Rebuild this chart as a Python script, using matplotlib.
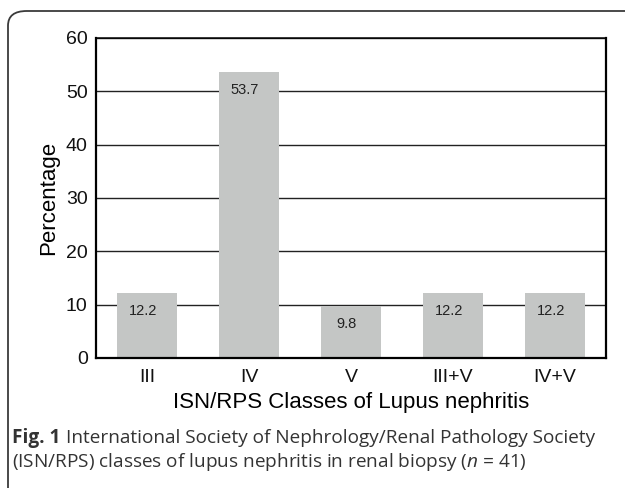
import matplotlib
matplotlib.use("Agg")
import matplotlib.pyplot as plt
from matplotlib.patches import FancyBboxPatch

# data
classes = ["III", "IV", "V", "III+V", "IV+V"]
percent = [12.2, 53.7, 9.8, 12.2, 12.2]
yticks = [0, 10, 20, 30, 40, 50, 60]

plt.rcParams['font.family'] = ['Liberation Sans', 'DejaVu Sans']
plt.rcParams['mathtext.fontset'] = 'custom'
plt.rcParams['mathtext.it'] = 'Open Sans:italic'
plt.rcParams['mathtext.rm'] = 'Open Sans'

W, H = 625, 488
fig = plt.figure(figsize=(W / 100, H / 100), dpi=100)

# outer rounded frame (runs off the right and bottom edges)
frame = FancyBboxPatch((8 / W, -0.2), 1.2, (H - 11) / H + 0.2,
                       boxstyle="round,pad=0,rounding_size=0.03",
                       transform=fig.transFigure, fill=False,
                       edgecolor="#3a3a3a", linewidth=1.3, clip_on=False)
fig.patches.append(frame)

ax = fig.add_axes([96 / W, (H - 358) / H, 510 / W, 320 / H])
x = range(len(classes))
bars = ax.bar(x, percent, width=0.58, color="#c4c6c5", zorder=2)
for xi, v in zip(x, percent):
    ax.annotate(f"{v}", (xi, v), xytext=(-3, -13), textcoords="offset points",
                ha="center", va="center", fontsize=10.5, color="#222222", zorder=3)

ax.set_xlim(-0.5, len(classes) - 0.5)
ax.set_ylim(0, 60)
ax.set_yticks(yticks)
ax.set_xticks(list(x))
ax.set_xticklabels(classes)
ax.yaxis.grid(True, color="#222222", linewidth=1.0, zorder=1)
ax.set_axisbelow(True)
ax.tick_params(length=0, labelsize=14, colors="#111111")
ax.tick_params(axis="y", pad=6)
ax.tick_params(axis="x", pad=8)
for s in ["left", "bottom", "right"]:
    ax.spines[s].set_linewidth(1.6)
ax.spines["top"].set_linewidth(1.1)
ax.set_ylabel("Percentage", fontsize=16, labelpad=5)
ax.set_xlabel("ISN/RPS Classes of Lupus nephritis", fontsize=16, labelpad=4)

# caption
cap_color = "#333333"
fig.text(12 / W, 1 - 438 / H, "Fig. 1", fontsize=13.7, fontweight="bold",
         family="Open Sans", color=cap_color, va="center")
fig.text(66 / W, 1 - 438 / H,
         "International Society of Nephrology/Renal Pathology Society",
         fontsize=13.7, family="Open Sans", color=cap_color, va="center")
fig.text(12 / W, 1 - 462 / H,
         r"(ISN/RPS) classes of lupus nephritis in renal biopsy ($n$ = 41)",
         fontsize=13.7, family="Open Sans", color=cap_color, va="center")

fig.savefig("out.png", dpi=100)
